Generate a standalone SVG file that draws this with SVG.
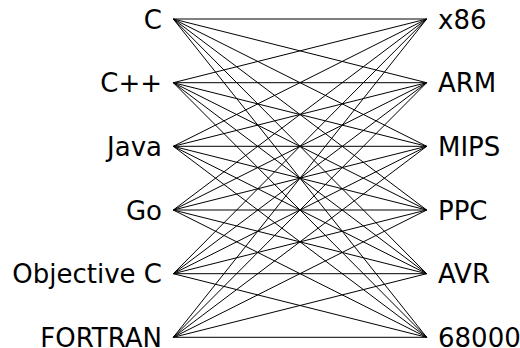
<svg xmlns="http://www.w3.org/2000/svg" width="520" height="348" viewBox="0 0 520 348">
<style>
text{font-family:"DejaVu Sans","Open Sans","Liberation Sans",sans-serif;font-size:26px;fill:#000}
.l{text-anchor:end}
.r{text-anchor:start}
#edges line{stroke:#000;stroke-width:1}
</style>
<rect width="520" height="348" fill="#fff"/>
<g id="edges">
<line x1="173.3" y1="19" x2="426.7" y2="19"/><line x1="173.3" y1="19" x2="426.7" y2="82.7"/><line x1="173.3" y1="19" x2="426.7" y2="146.3"/><line x1="173.3" y1="19" x2="426.7" y2="210"/><line x1="173.3" y1="19" x2="426.7" y2="273.7"/><line x1="173.3" y1="19" x2="426.7" y2="337.3"/>
<line x1="173.3" y1="82.7" x2="426.7" y2="19"/><line x1="173.3" y1="82.7" x2="426.7" y2="82.7"/><line x1="173.3" y1="82.7" x2="426.7" y2="146.3"/><line x1="173.3" y1="82.7" x2="426.7" y2="210"/><line x1="173.3" y1="82.7" x2="426.7" y2="273.7"/><line x1="173.3" y1="82.7" x2="426.7" y2="337.3"/>
<line x1="173.3" y1="146.3" x2="426.7" y2="19"/><line x1="173.3" y1="146.3" x2="426.7" y2="82.7"/><line x1="173.3" y1="146.3" x2="426.7" y2="146.3"/><line x1="173.3" y1="146.3" x2="426.7" y2="210"/><line x1="173.3" y1="146.3" x2="426.7" y2="273.7"/><line x1="173.3" y1="146.3" x2="426.7" y2="337.3"/>
<line x1="173.3" y1="210" x2="426.7" y2="19"/><line x1="173.3" y1="210" x2="426.7" y2="82.7"/><line x1="173.3" y1="210" x2="426.7" y2="146.3"/><line x1="173.3" y1="210" x2="426.7" y2="210"/><line x1="173.3" y1="210" x2="426.7" y2="273.7"/><line x1="173.3" y1="210" x2="426.7" y2="337.3"/>
<line x1="173.3" y1="273.7" x2="426.7" y2="19"/><line x1="173.3" y1="273.7" x2="426.7" y2="82.7"/><line x1="173.3" y1="273.7" x2="426.7" y2="146.3"/><line x1="173.3" y1="273.7" x2="426.7" y2="210"/><line x1="173.3" y1="273.7" x2="426.7" y2="273.7"/><line x1="173.3" y1="273.7" x2="426.7" y2="337.3"/>
<line x1="173.3" y1="337.3" x2="426.7" y2="19"/><line x1="173.3" y1="337.3" x2="426.7" y2="82.7"/><line x1="173.3" y1="337.3" x2="426.7" y2="146.3"/><line x1="173.3" y1="337.3" x2="426.7" y2="210"/><line x1="173.3" y1="337.3" x2="426.7" y2="273.7"/><line x1="173.3" y1="337.3" x2="426.7" y2="337.3"/>
</g>
<g id="lang-c"><text class="l" x="162" y="28.5">C</text></g>
<g id="lang-cpp"><text class="l" x="162" y="92.2">C++</text></g>
<g id="lang-java"><text class="l" x="162" y="155.8">Java</text></g>
<g id="lang-go"><text class="l" x="162" y="219.5">Go</text></g>
<g id="lang-objc"><text class="l" x="162" y="283.2">Objective C</text></g>
<g id="lang-fortran"><text class="l" x="162" y="346.5">FORTRAN</text></g>
<g id="arch-x86"><text class="r" x="438" y="28.5">x86</text></g>
<g id="arch-arm"><text class="r" x="438" y="92.2">ARM</text></g>
<g id="arch-mips"><text class="r" x="438" y="155.8">MIPS</text></g>
<g id="arch-ppc"><text class="r" x="438" y="219.5">PPC</text></g>
<g id="arch-avr"><text class="r" x="438" y="283.2">AVR</text></g>
<g id="arch-68000"><text class="r" x="438" y="346.5">68000</text></g>
</svg>
